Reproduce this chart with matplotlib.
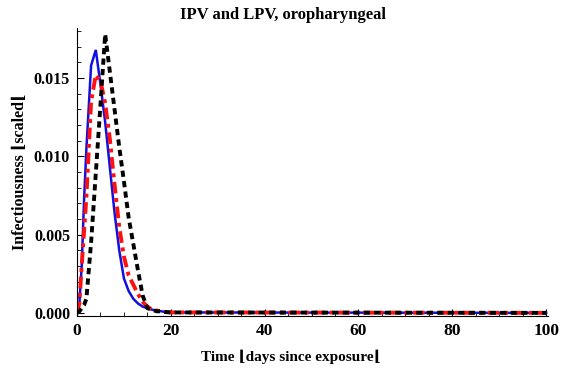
import matplotlib
matplotlib.use("Agg")
import matplotlib.pyplot as plt
from matplotlib.ticker import MultipleLocator, FormatStrFormatter

# days since exposure
days = [0, 0.5, 1, 1.5, 2, 3, 4, 5, 6, 7, 8, 9, 10, 11, 12, 13, 14, 15, 16, 17, 18, 19, 20, 100]

ipv_lpv_a = [0, 0.0006, 0.0030, 0.0072, 0.0105, 0.0158, 0.0168, 0.0146, 0.0122, 0.0093, 0.0064,
             0.0040, 0.0022, 0.0014, 0.0009, 0.0006, 0.0004, 0.0003, 0.0002, 0.00015, 0.0001,
             0.00005, 0.00003, 0]
ipv_lpv_b = [0, 0.0006, 0.0030, 0.0052, 0.0074, 0.0135, 0.0152, 0.0148, 0.0134, 0.0111, 0.0082,
             0.0055, 0.0036, 0.0024, 0.0018, 0.0012, 0.0007, 0.0004, 0.0002, 0.00015, 0.0001,
             0.00005, 0.00003, 0]
ipv_lpv_c = [0, 0.0001, 0.0003, 0.0005, 0.0009, 0.0045, 0.0089, 0.0133, 0.0178, 0.0154, 0.0130,
             0.0106, 0.0084, 0.0061, 0.0044, 0.0027, 0.0011, 0.0003, 0.0002, 0.0001, 0.0001,
             0.00005, 0.00003, 0]

title = "IPV and LPV, oropharyngeal"
xlabel = "Time \u230adays since exposure\u230a"
ylabel = "Infectiousness \u230ascaled\u230a"

fonts = ["Liberation Serif", "DejaVu Serif"]
plt.rcParams["font.family"] = fonts
plt.rcParams["font.weight"] = "bold"

fig = plt.figure(figsize=(5.63, 3.72), dpi=100)
ax = fig.add_axes([0.1368, 0.1505, 0.8366, 0.7742])

ax.plot(days, ipv_lpv_a, color="#1010e0", lw=1.8, solid_joinstyle="miter")
ax.plot(days, ipv_lpv_b, color="#ff1010", lw=2.8, dashes=(3, 1.2, 1, 1.2))
ax.plot(days, ipv_lpv_c, color="black", lw=2.8, dashes=(1.6, 1.1))

ax.set_xlim(0, 100.4)
ax.set_ylim(-0.0002, 0.0182)
ax.spines["top"].set_visible(False)
ax.spines["right"].set_visible(False)
ax.spines["left"].set_linewidth(0.8)
ax.spines["bottom"].set_linewidth(0.8)

ax.xaxis.set_major_locator(MultipleLocator(20))
ax.xaxis.set_minor_locator(MultipleLocator(5))
ax.yaxis.set_major_locator(MultipleLocator(0.005))
ax.yaxis.set_minor_locator(MultipleLocator(0.001))
ax.yaxis.set_major_formatter(FormatStrFormatter("%.3f"))
ax.tick_params(which="major", direction="in", length=5, width=0.8, pad=5)
ax.tick_params(which="minor", direction="in", length=3, width=0.6)
ax.tick_params(axis="x", labelsize=12.5)
ax.tick_params(axis="y", labelsize=11.5)
for lab in ax.get_xticklabels() + ax.get_yticklabels():
    lab.set_fontweight("bold")

fig.text(0.503, 0.96, title, ha="center", va="center", fontsize=12, fontweight="bold")
fig.text(0.517, 0.04, xlabel, ha="center", va="center", fontsize=11, fontweight="bold")
fig.text(0.036, 0.538, ylabel, ha="center", va="center", rotation=90, fontsize=11.5, fontweight="bold")

fig.savefig("out.png", dpi=100)
